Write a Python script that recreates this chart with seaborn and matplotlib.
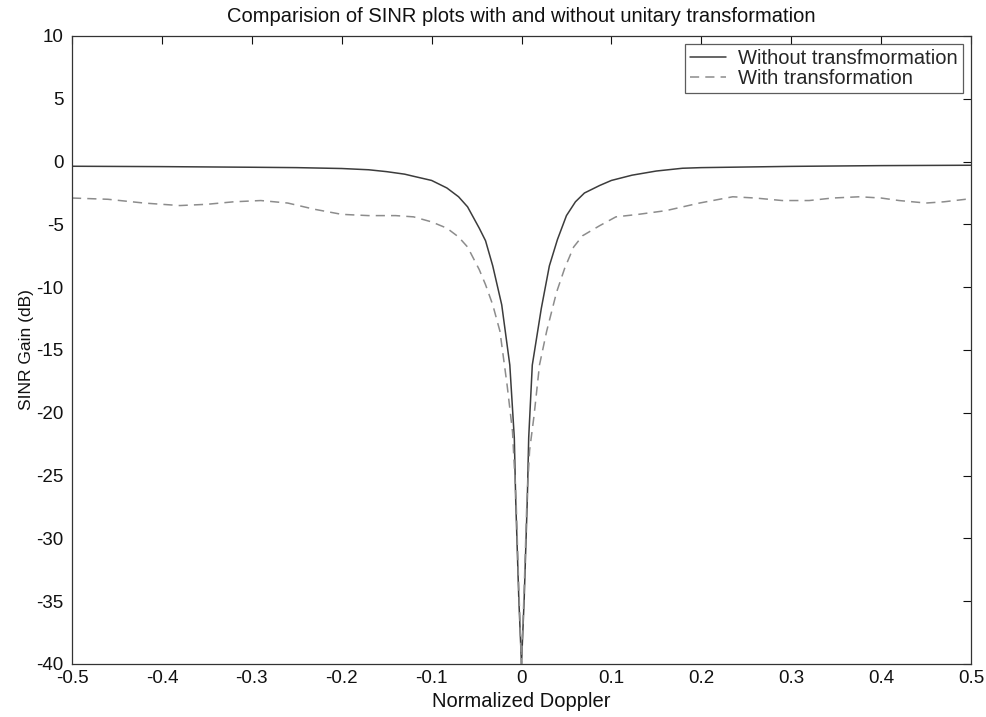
import matplotlib
matplotlib.use("Agg")
import matplotlib.pyplot as plt
import seaborn as sns
import pandas as pd

# Without transformation (solid)
x_without = [-0.5, -0.4, -0.3, -0.25, -0.2, -0.17, -0.15, -0.13, -0.12, -0.10, -0.083,
             -0.07, -0.06, -0.047, -0.04, -0.032, -0.022, -0.013, -0.008, -0.0065, -0.003, 0.0,
             0.003, 0.0065, 0.008, 0.012, 0.022, 0.031, 0.04, 0.05, 0.06, 0.07, 0.087, 0.1,
             0.123, 0.15, 0.179, 0.2, 0.3, 0.4, 0.5]
y_without = [-0.37, -0.40, -0.45, -0.48, -0.55, -0.65, -0.8, -1.0, -1.17, -1.5, -2.1,
             -2.8, -3.6, -5.3, -6.3, -8.3, -11.4, -16.2, -22.0, -26.8, -34.8, -40.0,
             -34.8, -26.8, -22.0, -16.2, -11.7, -8.3, -6.2, -4.3, -3.2, -2.5, -1.9, -1.5,
             -1.08, -0.75, -0.53, -0.48, -0.38, -0.32, -0.29]

# With transformation (dashed)
x_with = [-0.5, -0.46, -0.42, -0.38, -0.35, -0.32, -0.29, -0.26, -0.23, -0.2, -0.17, -0.14,
          -0.12, -0.10, -0.083, -0.07, -0.06, -0.047, -0.04, -0.032, -0.024, -0.016, -0.01,
          -0.006, -0.003, 0.0, 0.003, 0.006, 0.009, 0.014, 0.020, 0.028, 0.039, 0.048, 0.058,
          0.068, 0.087, 0.105, 0.13, 0.161, 0.198, 0.235, 0.26, 0.29, 0.32, 0.346, 0.376, 0.4,
          0.42, 0.45, 0.47, 0.494, 0.5]
y_with = [-2.9, -3.0, -3.3, -3.5, -3.4, -3.2, -3.1, -3.3, -3.8, -4.2, -4.3, -4.3,
          -4.4, -4.8, -5.3, -6.0, -6.8, -8.6, -9.8, -11.4, -13.5, -17.8, -21.5,
          -27.0, -34.0, -40.0, -34.0, -27.0, -23.0, -20.2, -16.2, -13.5, -10.4, -8.5, -6.8,
          -5.9, -5.1, -4.4, -4.2, -3.9, -3.3, -2.8, -2.9, -3.1, -3.1, -2.9, -2.8, -2.9,
          -3.1, -3.3, -3.2, -3.0, -3.0]

x_ticks = [-0.5, -0.4, -0.3, -0.2, -0.1, 0, 0.1, 0.2, 0.3, 0.4, 0.5]
x_ticklabels = ["-0.5", "-0.4", "-0.3", "-0.2", "-0.1", "0", "0.1", "0.2", "0.3", "0.4", "0.5"]
y_ticks = [-40, -35, -30, -25, -20, -15, -10, -5, 0, 5, 10]

sns.set_style("white")
plt.rcParams['font.family'] = ['Liberation Sans', 'DejaVu Sans']
plt.rcParams['axes.unicode_minus'] = False

W, H = 986, 717
fig = plt.figure(figsize=(W / 100, H / 100), dpi=100)
left, right, top, bottom = 72, 971, 36, 664
ax = fig.add_axes([left / W, 1 - bottom / H, (right - left) / W, (bottom - top) / H])

df1 = pd.DataFrame({"x": x_without, "y": y_without})
df2 = pd.DataFrame({"x": x_with, "y": y_with})
sns.lineplot(data=df1, x="x", y="y", ax=ax, color="#3c3c3c", linewidth=1.1,
             label="Without transfmormation", sort=False)
sns.lineplot(data=df2, x="x", y="y", ax=ax, color="#8c8c8c", linewidth=1.1,
             linestyle=(0, (6, 4)), label="With transformation", sort=False)

ax.set_xlim(-0.5, 0.5)
ax.set_ylim(-40, 10)
ax.set_xticks(x_ticks)
ax.set_xticklabels(x_ticklabels)
ax.set_yticks(y_ticks)
ax.tick_params(direction="in", length=6, width=0.8, top=True, right=True,
               labelsize=13.5, colors="#111111")
ax.tick_params(axis="y", pad=6)
ax.tick_params(axis="x", pad=4)
for s in ax.spines.values():
    s.set_visible(True)
    s.set_color("#333333")
    s.set_linewidth(0.9)

ax.set_xlabel("Normalized Doppler", fontsize=14.5, labelpad=4, color="#111111")
ax.set_ylabel("SINR Gain (dB)", fontsize=12.5, labelpad=2, color="#111111")
ax.set_title("Comparision of SINR plots with and without unitary transformation",
             fontsize=14.5, pad=10, color="#111111")

leg = ax.legend(loc="upper right", fontsize=14.5, frameon=True, fancybox=False,
                borderaxespad=0.4, handlelength=1.8, handletextpad=0.6,
                borderpad=0.25, labelspacing=0.05)
leg.get_frame().set_edgecolor("#333333")
leg.get_frame().set_linewidth(0.9)

fig.savefig("out.png", dpi=100)
